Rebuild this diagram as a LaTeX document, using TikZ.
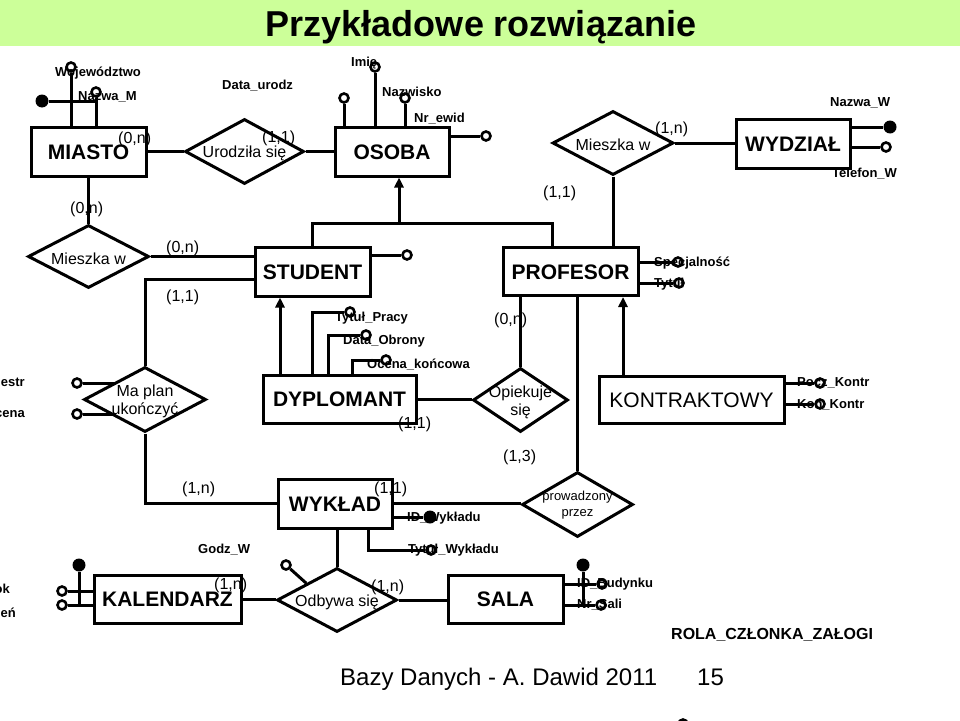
\documentclass[tikz,border=0pt]{standalone}
\usepackage{fontspec}
\setmainfont{Liberation Sans}
\usetikzlibrary{shapes.geometric,arrows.meta,calc}
\definecolor{titlegreen}{RGB}{204,255,153}
\begin{document}
\begin{tikzpicture}[x=1pt,y=-1pt,
  lw/.style={line width=3pt},
  isa/.style={line width=3pt,-{Triangle[length=10pt,width=9pt]}},
  ent/.style 2 args={draw,line width=3pt,inner sep=0pt,minimum width=#1,minimum height=#2,
     font=\bfseries\fontsize{21}{21}\selectfont,text height=15pt,text depth=0pt},
  entreg/.style 2 args={draw,line width=3pt,inner sep=0pt,minimum width=#1,minimum height=#2,
     font=\fontsize{21}{21}\selectfont,text height=15pt,text depth=0pt},
  rel/.style 2 args={shape=diamond,draw,line width=3pt,inner sep=0pt,minimum width=#1,minimum height=#2},
  reltext/.style={font=\fontsize{16}{18}\selectfont,align=center,inner sep=0pt,yshift=-2pt},
  relsmall/.style={font=\fontsize{13}{16}\selectfont,align=center,inner sep=0pt,yshift=-1pt},
  attr/.style={font=\bfseries\fontsize{13}{13}\selectfont,anchor=west,inner sep=0pt,text height=9.4pt,text depth=0pt},
  attrR/.style={attr,anchor=east},
  card/.style={font=\fontsize{16}{16}\selectfont,anchor=west,inner sep=0pt,text height=11.5pt,text depth=0pt},
  foot/.style={anchor=west,inner sep=0pt,font=\fontsize{24}{24}\selectfont,text height=17.3pt,text depth=0pt},
  ao/.style={circle,draw,line width=2.6pt,minimum size=9pt,inner sep=0pt},
  af/.style={circle,fill=black,minimum size=13pt,inner sep=0pt}
]
\useasboundingbox (0,0) rectangle (960,720);
\clip (0,0) rectangle (960,720);
\fill[white] (0,0) rectangle (960,720);

% title band
\node[fill=titlegreen,minimum width=960pt,minimum height=46pt,anchor=north west,inner sep=0pt] (band) at (0,0) {};
\node[font=\bfseries\fontsize{36}{36}\selectfont,inner sep=0pt,text height=25.8pt,text depth=0pt] (title) at (481,24) {Przykładowe rozwiązanie};

% entities
\node[ent={115pt}{49pt}] (miasto) at (88.5,151.5) {MIASTO};
\node[ent={114pt}{49pt}] (osoba) at (392,151.5) {OSOBA};
\node[ent={114pt}{49pt}] (wydzial) at (793,143.5) {WYDZIAŁ};
\node[ent={115pt}{49pt}] (student) at (312.5,271.5) {STUDENT};
\node[ent={135pt}{48pt}] (profesor) at (570.5,271.5) {PROFESOR};
\node[ent={153pt}{48pt}] (dyplomant) at (339.5,399) {DYPLOMANT};
\node[entreg={185pt}{47pt}] (kontr) at (691.5,399.5) {KONTRAKTOWY};
\node[ent={114pt}{49pt}] (wyklad) at (335,503.5) {WYKŁAD};
\node[ent={147pt}{48pt}] (kalendarz) at (167.5,599) {KALENDARZ};
\node[ent={115pt}{48pt}] (sala) at (505.5,599) {SALA};

% relationships
\node[rel={119pt}{65pt},label={[reltext]center:Urodziła się}] (urodz) at (244.5,151.5) {};
\node[rel={121pt}{64pt},label={[reltext]center:Mieszka w}] (mieszkaT) at (613,143) {};
\node[rel={121pt}{63pt},label={[reltext]center:Mieszka w}] (mieszkaL) at (88.5,256.5) {};
\node[rel={122pt}{65pt},label={[reltext]center:{Ma plan\\ukończyć}}] (maplan) at (145,399.5) {};
\node[rel={95pt}{64pt},label={[reltext]center:{Opiekuje\\się}}] (opiekuje) at (520.5,400) {};
\node[rel={111pt}{65pt},label={[relsmall]center:{prowadzony\\przez}}] (prow) at (577.5,504.5) {};
\node[rel={120pt}{64pt},label={[reltext]center:Odbywa się}] (odbywa) at (337,600) {};

% connectors
\draw[lw] (miasto.east) -- (urodz.west);
\draw[lw] (urodz.east) -- (osoba.west);
\draw[lw] (mieszkaT.east) -- (mieszkaT.east -| wydzial.west);
\draw[lw] (mieszkaT.south) -- (mieszkaT.south |- profesor.north);
\draw[lw] (miasto.south) -- (mieszkaL.north);
\draw[lw] (mieszkaL.east) -- (mieszkaL.east -| student.west);
\draw[lw] ([yshift=-7.5pt]student.west) -| (maplan.north);
\draw[lw] (maplan.south) |- (wyklad.west);
\draw[lw] (dyplomant.east) -- (dyplomant.east -| opiekuje.west);
\draw[lw] (opiekuje.north) -- (opiekuje.north |- profesor.south);
\draw[lw] (prow.north) -- (prow.north |- profesor.south);
\draw[lw] (wyklad.east) -- (wyklad.east -| prow.west);
\draw[lw] (odbywa.north) -- (odbywa.north |- wyklad.south);
\draw[lw] (kalendarz.east) -- (kalendarz.east -| odbywa.west);
\draw[lw] (odbywa.east) -- (odbywa.east -| sala.west);

% generalisation
\coordinate (isaR) at (552,223);
\coordinate (isaM) at (399,223);
\draw[lw] (student.north) |- (isaR) -- (isaR |- profesor.north);
\draw[isa] (isaM) -- (isaM |- osoba.south);
\draw[isa] ([xshift=-59.5pt]dyplomant.north) -- ([xshift=-59.5pt]dyplomant.north |- student.south);
\draw[isa] ([xshift=-68.5pt]kontr.north) -- ([xshift=-68.5pt]kontr.north |- profesor.south);

% attributes: MIASTO
\node[ao] (wojC) at (71,67) {};
\node[ao] (nazMC) at (96,92) {};
\node[af] (miKey) at (42,101) {};
\draw[lw] (wojC) -- (wojC |- miasto.north);
\draw[lw] (nazMC) -- (nazMC |- miasto.north);
\draw[lw] (miKey) -- (miKey -| nazMC);

% OSOBA
\node[ao] (os1) at (344,98) {};
\node[ao] (imieC) at (375,67) {};
\node[ao] (nazwC) at (405,98) {};
\node[ao] (nrC) at (486,136) {};
\draw[lw] (os1) -- (os1 |- osoba.north);
\draw[lw] (imieC) -- (imieC |- osoba.north);
\draw[lw] (nazwC) -- (nazwC |- osoba.north);
\draw[lw] (nrC) -- (nrC -| osoba.east);

% WYDZIAL
\node[af] (nwC) at (890,127) {};
\node[ao] (twC) at (886,147) {};
\draw[lw] (nwC) -- (nwC -| wydzial.east);
\draw[lw] (twC) -- (twC -| wydzial.east);

% STUDENT
\node[ao] (stC) at (407,255) {};
\draw[lw] (stC) -- (stC -| student.east);

% PROFESOR
\node[ao] (specC) at (678,262) {};
\node[ao] (tytC) at (679,283) {};
\draw[lw] (specC) -- (specC -| profesor.east);
\draw[lw] (tytC) -- (tytC -| profesor.east);

% DYPLOMANT
\node[ao] (tpC) at (350,312) {};
\node[ao] (dobC) at (366,335) {};
\node[ao] (ocC) at (386,360) {};
\draw[lw] (tpC) -| ([xshift=-27.5pt]dyplomant.north);
\draw[lw] (dobC) -| ([xshift=-11.5pt]dyplomant.north);
\draw[lw] (ocC) -| ([xshift=12.5pt]dyplomant.north);

% KONTRAKTOWY
\node[ao] (pkC) at (820,383) {};
\node[ao] (kkC) at (820,404) {};
\draw[lw] (pkC) -- (pkC -| kontr.east);
\draw[lw] (kkC) -- (kkC -| kontr.east);

% Ma plan
\coordinate (mpUL) at ($(maplan.west)!0.5!(maplan.north)$);
\coordinate (mpLL) at ($(maplan.west)!0.5!(maplan.south)$);
\node[ao] (semC) at (77,383) {};
\node[ao] (ocnC) at (77,414) {};
\draw[lw] (semC) -- (semC -| mpUL);
\draw[lw] (ocnC) -- (ocnC -| mpLL);

% WYKLAD
\node[af] (idwC) at (430,517) {};
\node[ao] (twyC) at (431,550) {};
\draw[lw] (idwC) -- (idwC -| wyklad.east);
\draw[lw] (twyC) -| ([xshift=33pt]wyklad.south);

% Odbywa
\coordinate (odUL) at ($(odbywa.west)!0.5!(odbywa.north)$);
\node[ao] (godzC) at (286,565) {};
\draw[lw] (godzC) -- (odUL);

% SALA
\node[ao] (idbC) at (602,584) {};
\node[ao] (nrsC) at (601,605) {};
\node[af] (salaKey) at (583,565) {};
\draw[lw] (idbC) -- (idbC -| sala.east);
\draw[lw] (nrsC) -- (nrsC -| sala.east);
\draw[lw] (salaKey) -- (salaKey |- nrsC);

% KALENDARZ
\node[ao] (rokC) at (62,591) {};
\node[ao] (dzC) at (62,605) {};
\node[af] (kalKey) at (79,565) {};
\draw[lw] (rokC) -- (rokC -| kalendarz.west);
\draw[lw] (dzC) -- (dzC -| kalendarz.west);
\draw[lw] (kalKey) -- (kalKey |- dzC);

% partial circle at the bottom
\node[ao] (extraC) at (683,724) {};

% attribute labels
\node[attr] (lWoj) at (55,72) {Województwo};
\node[attr] (lNazM) at (78,96) {Nazwa\_M};
\node[attr] (lDatU) at (222,85) {Data\_urodz};
\node[attr] (lImie) at (351,62) {Imię};
\node[attr] (lNazw) at (382,92) {Nazwisko};
\node[attr] (lNr) at (414,118) {Nr\_ewid};
\node[attr] (lNazW) at (830,102) {Nazwa\_W};
\node[attr] (lTelW) at (832,173) {Telefon\_W};
\node[attr] (lSpec) at (654,262) {Specjalność};
\node[attr] (lTyt) at (654,283) {Tytuł};
\node[attr] (lTP) at (335,317) {Tytuł\_Pracy};
\node[attr] (lDO) at (343,340) {Data\_Obrony};
\node[attr] (lOK) at (367,364) {Ocena\_końcowa};
\node[attr] (lPK) at (797,382) {Pocz\_Kontr};
\node[attr] (lKK) at (797,404) {Kon\_Kontr};
\node[attr] (lIDW) at (407,517) {ID\_Wykładu};
\node[attr] (lTW) at (408,549) {Tytuł\_Wykładu};
\node[attr] (lGodz) at (198,549) {Godz\_W};
\node[attr] (lIDB) at (577,583) {ID\_Budynku};
\node[attr] (lNrS) at (577,604) {Nr\_Sali};
\node[attrR] (lSem) at (25,382) {Semestr};
\node[attrR] (lOc) at (25,413) {Ocena};
\node[attrR] (lRok) at (10,589) {Rok};
\node[attrR] (lDz) at (16,613) {Dzień};
\node[attr,font=\bfseries\fontsize{16}{16}\selectfont,text height=11.5pt] (lRola) at (671,634) {ROLA\_CZŁONKA\_ZAŁOGI};

% cardinalities
\node[card] (c1) at (118,138) {(0,n)};
\node[card] (c2) at (262,137) {(1,1)};
\node[card] (c3) at (70,208) {(0,n)};
\node[card] (c4) at (655,128) {(1,n)};
\node[card] (c5) at (543,192) {(1,1)};
\node[card] (c6) at (166,247) {(0,n)};
\node[card] (c7) at (166,296) {(1,1)};
\node[card] (c8) at (494,319) {(0,n)};
\node[card] (c9) at (398,423) {(1,1)};
\node[card] (c10) at (503,456) {(1,3)};
\node[card] (c11) at (182,488) {(1,n)};
\node[card] (c12) at (374,488) {(1,1)};
\node[card] (c13) at (214,584) {(1,n)};
\node[card] (c14) at (371,586) {(1,n)};

% footer
\node[foot] (footer) at (340,677) {Bazy Danych - A. Dawid 2011};
\node[foot] (pagenum) at (697,677) {15};
\end{tikzpicture}
\end{document}
